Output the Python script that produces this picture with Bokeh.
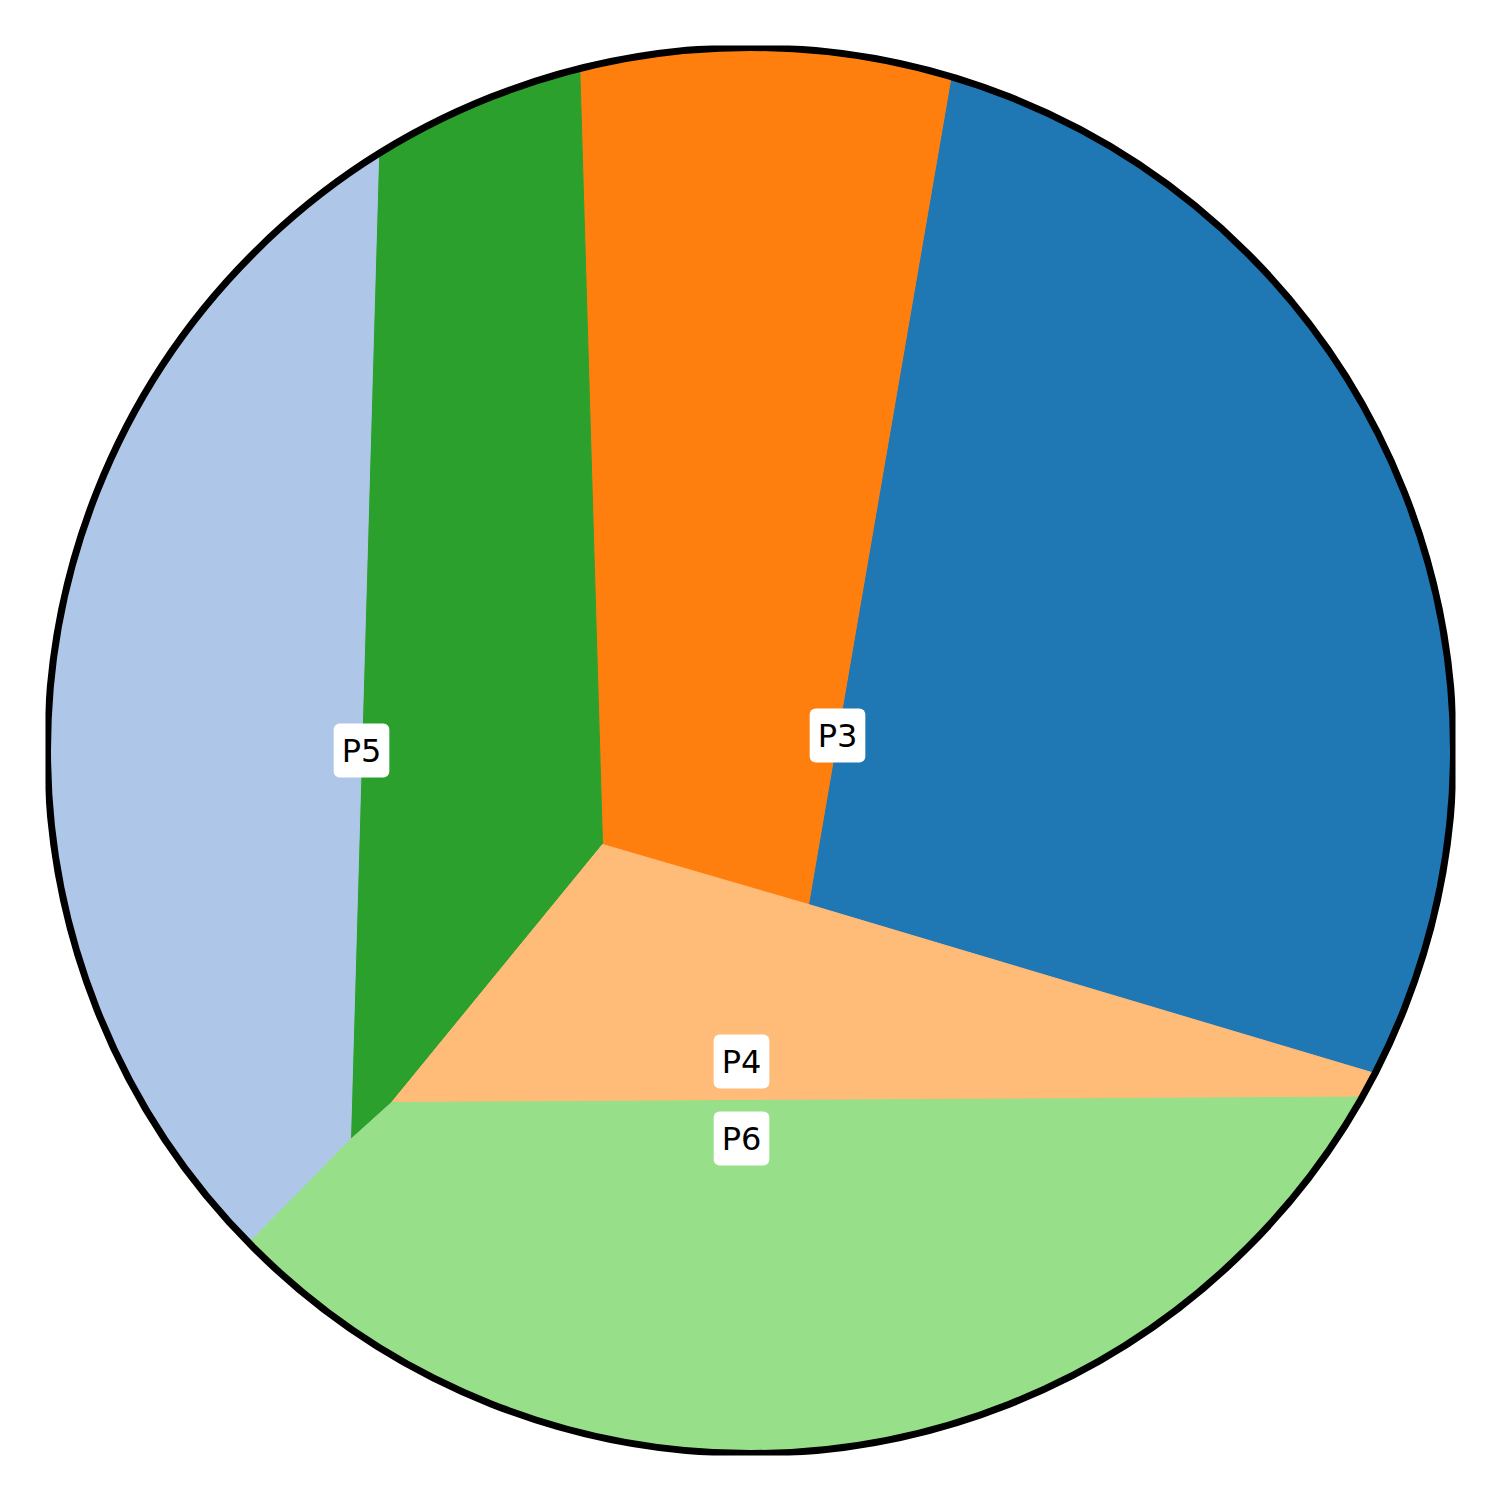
import numpy as np
from bokeh.plotting import figure
from bokeh.models import Range1d, ColumnDataSource
from bokeh.core.properties import value
from bokeh.embed import file_html
from bokeh.resources import INLINE

# Circle (data units)
cx, cy, R = 750.0, 750.0, 703.0

# Points where region boundaries meet the rim
rim = {
    "A": (380, 155),
    "E": (580, 70),
    "F": (950, 78),
    "H": (1373, 1072),
    "I": (1360, 1095),
    "J": (251, 1240),
}
# Interior junction points
inner = {
    "B": (350, 1139),
    "C": (391, 1102),
    "D": (602, 844),
    "G": (808, 904),
}

region_colors = ["#1f77b4", "#ff7f0e", "#2ca02c", "#aec7e8", "#ffbb78", "#98df8a"]
region_rim = [("F", "H"), ("E", "F"), ("A", "E"), ("J", "A"), ("H", "I"), ("I", "J")]
region_inner = [["G"], ["G", "D"], ["D", "C", "B"], ["B"], ["C", "D", "G"], ["B", "C"]]

label_names = ["P5", "P3", "P4", "P6"]
label_x = [361, 837, 741, 741]
label_y = [750, 735, 1061, 1138]


def ang(p):
    return np.arctan2(p[1] - cy, p[0] - cx)


xs, ys = [], []
for (s, e), chain in zip(region_rim, region_inner):
    a0 = ang(rim[s])
    a1 = ang(rim[e])
    while a1 < a0:
        a1 += 2 * np.pi
    t = np.linspace(a0, a1, 200)
    px = list(cx + (R + 1) * np.cos(t))
    py = list(cy + (R + 1) * np.sin(t))
    for k in chain:
        px.append(inner[k][0])
        py.append(inner[k][1])
    xs.append(px)
    ys.append(py)

p = figure(width=1500, height=1500, output_backend="svg", toolbar_location=None,
           x_range=Range1d(45, 1455), y_range=Range1d(1455, 45),
           min_border_left=45, min_border_right=45, min_border_top=45, min_border_bottom=45)
p.axis.visible = False
p.grid.visible = False
p.outline_line_color = None
p.background_fill_color = "white"
p.border_fill_color = "white"

p.patches(xs, ys, fill_color=region_colors, line_color=region_colors, line_width=1)
p.circle(x=[cx], y=[cy], radius=R, fill_color=None, line_color="black", line_width=7)

src = ColumnDataSource(dict(x=label_x, y=label_y, t=label_names))
p.text(x="x", y="y", text="t", source=src, text_align="center", text_baseline="middle",
       text_font=value("DejaVu Sans"), text_font_size="32px", text_color="black",
       background_fill_color="white", border_line_color=None, padding=8, border_radius=6)

open("out.html", "w").write(file_html(p, INLINE))
